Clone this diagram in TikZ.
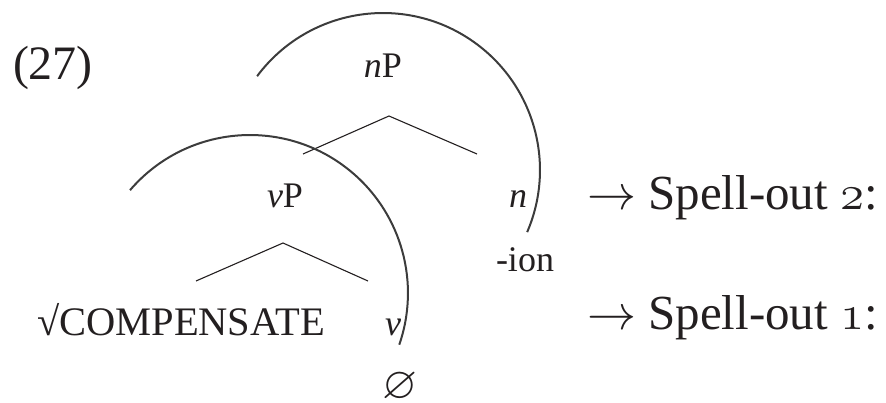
\RequirePackage{fix-cm}
\documentclass[tikz,border=0pt]{standalone}
\usepackage{fontspec}
\usepackage{amssymb}
\setmainfont{Liberation Serif}
\newcommand{\osnum}[1]{{\usefont{OML}{cmm}{m}{it}#1}}
\definecolor{ink}{HTML}{231F20}
\definecolor{arcgray}{HTML}{3C3C3C}
\tikzset{
  lbl/.style={inner sep=0pt, outer sep=0pt, text=ink, font=\fontsize{36}{40}\selectfont},
  big/.style={inner sep=0pt, outer sep=0pt, text=ink, font=\fontsize{48}{52}\selectfont},
  spell/.style={inner sep=0pt, outer sep=0pt, text=ink, font=\fontsize{49}{54}\selectfont},
  branch/.style={draw=ink, line width=1.1pt},
  phase/.style={draw=arcgray, line width=2pt},
}
\begin{document}
\begin{tikzpicture}[x=1pt,y=1pt]
\useasboundingbox (0,0) rectangle (886,-403);
% example number
\node[big, anchor=base west] (ex) at (13,-80) {(27)};
% nP level
\node[lbl, anchor=base] (nP) at (383,-78) {\textit{n}P};
\coordinate (nPtop) at (389,-116);
\coordinate (nPl) at (303,-154);
\coordinate (nPr) at (477,-154);
\draw[branch] (nPl) -- (nPtop) -- (nPr);
% vP level
\node[lbl, anchor=base] (vP) at (285,-208) {\textit{v}P};
\node[lbl, anchor=base] (n) at (518,-208) {\textit{n}};
\node[lbl, anchor=base] (ion) at (525,-272) {-ion};
\coordinate (vPtop) at (283,-243);
\coordinate (vPl) at (196,-281);
\coordinate (vPr) at (368,-281);
\draw[branch] (vPl) -- (vPtop) -- (vPr);
% bottom level
\node[lbl, anchor=base west, font=\fontsize{40.5}{44}\selectfont] (root) at (37,-335) {√COMPENSATE};
\node[lbl, anchor=base] (v) at (393,-335) {\textit{v}};
\node[lbl] (null) at (400,-387) {\scalebox{1.25}{$\varnothing$}};
% phase arcs
\coordinate (arcA) at (257.1,-76.2);
\draw[phase] (arcA) arc[start angle=143.3, end angle=-23.3, radius=157];
\coordinate (arcB) at (130.0,-190.2);
\draw[phase] (arcB) arc[start angle=139.4, end angle=-19.1, radius=158];
% spell-out
\node[spell, anchor=base west] (so2) at (587,-210) {$\rightarrow$\hspace{0.25em}Spell-out \osnum{2}:};
\node[spell, anchor=base west] (so1) at (587,-330) {$\rightarrow$\hspace{0.25em}Spell-out \osnum{1}:};
\end{tikzpicture}
\end{document}
